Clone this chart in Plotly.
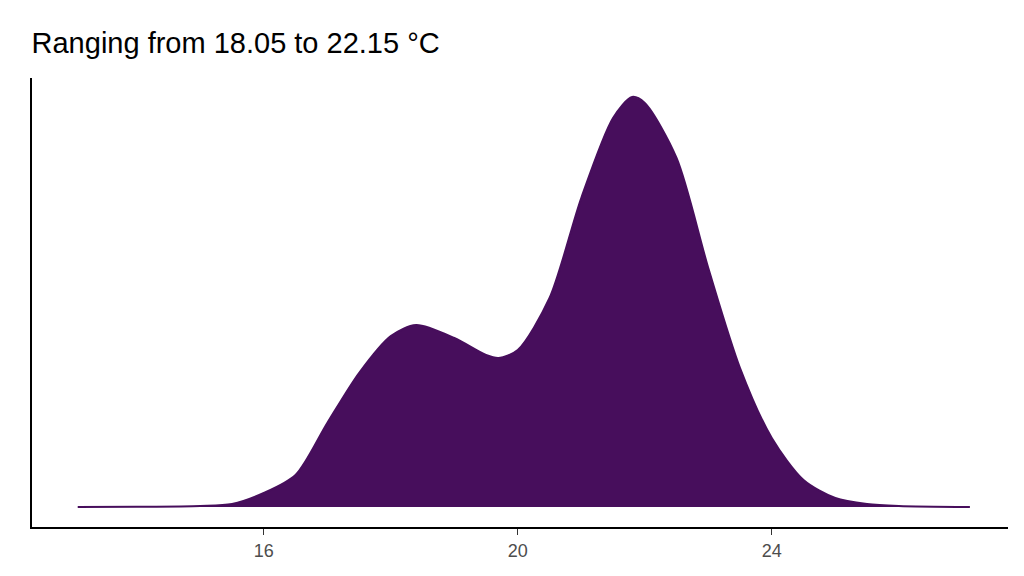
import plotly.graph_objects as go

temp = [13.07, 14.0, 15.0, 15.5, 16.0, 16.5, 17.0, 17.5, 18.0, 18.4, 19.0, 19.5, 19.7, 20.0, 20.5, 21.0, 21.5, 21.8, 22.0, 22.5, 23.0, 23.5, 24.0, 24.5, 25.0, 25.5, 26.0, 27.12]
density = [0.0, 0.2, 1.0, 3.0, 14, 32, 84, 134, 171, 182, 169, 152, 149, 157, 209, 309, 389, 410, 404, 349, 239, 139, 69, 27, 9, 3, 1, 0.0]
density = [d / 1000 for d in density]
tickvals = [16, 20, 24]

fig = go.Figure(go.Scatter(x=temp, y=density, mode="lines", fill="tozeroy",
                           line=dict(color="#470E5C", width=2, shape="spline", smoothing=0.8),
                           fillcolor="#470E5C", hoverinfo="skip"))
fig.update_layout(
    width=1024, height=576, plot_bgcolor="white", paper_bgcolor="white",
    margin=dict(l=24, r=24, t=70, b=57), showlegend=False,
    title=dict(text="Ranging from 18.05 to 22.15 °C", x=0.023, xanchor="left", y=0.94, yanchor="middle",
               font=dict(family="Liberation Sans, Arial", size=29, color="black")),
)
fig.update_xaxes(range=[12.35, 27.72], tickvals=tickvals, ticks="outside", ticklen=6, tickcolor="#333",
                 showline=True, linecolor="black", linewidth=2, showgrid=False, zeroline=False,
                 tickfont=dict(family="Liberation Sans, Arial", size=18, color="#4d4d4d"))
fig.update_yaxes(range=[-0.020, 0.429], showticklabels=False, showline=True, linecolor="black", linewidth=2,
                 showgrid=False, zeroline=False, ticks="")
fig.write_html("out.html")
